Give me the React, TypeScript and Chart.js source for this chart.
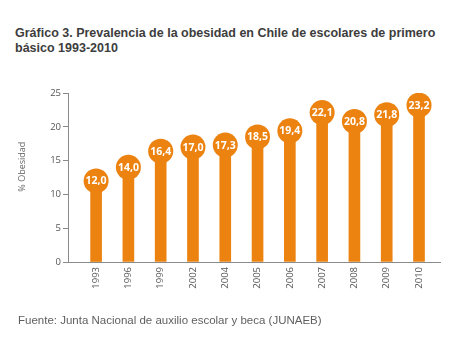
import React, { useEffect, useRef } from "react";
import { Chart, registerables } from "chart.js";

Chart.register(...registerables);

const years = ["1993", "1996", "1999", "2002", "2004", "2005", "2006", "2007", "2008", "2009", "2010"];
const obesity = [12.0, 14.0, 16.4, 17.0, 17.3, 18.5, 19.4, 22.1, 20.8, 21.8, 23.2];
const yTicks = [0, 5, 10, 15, 20, 25];
const titleLine1 = "Gráfico 3. Prevalencia de la obesidad en Chile de escolares de primero";
const titleLine2 = "básico 1993-2010";
const sourceText = "Fuente: Junta Nacional de auxilio escolar y beca (JUNAEB)";
const yTitle = "% Obesidad";

const ORANGE = "#EC8311";

const valueLabelPlugin = {
  id: "valueLabels",
  afterDatasetsDraw(chart: any) {
    const meta = chart.getDatasetMeta(1);
    const ctx = chart.ctx;
    ctx.save();
    ctx.fillStyle = "#ffffff";
    ctx.font = "bold 10.5px 'Open Sans', sans-serif";
    ctx.textAlign = "center";
    ctx.textBaseline = "middle";
    meta.data.forEach((pt: any, i: number) => {
      const txt = obesity[i].toFixed(1).replace(".", ",");
      ctx.fillText(txt, pt.x, pt.y + 0.5);
    });
    ctx.restore();
  },
};

const yTitlePlugin = {
  id: "yTitle",
  afterDraw(chart: any) {
    const ctx = chart.ctx;
    const y = chart.scales.y;
    ctx.save();
    ctx.translate(22, y.getPixelForValue(14.1));
    ctx.rotate(-Math.PI / 2);
    ctx.fillStyle = "#666666";
    ctx.font = "9px 'Open Sans', sans-serif";
    ctx.textAlign = "center";
    ctx.textBaseline = "middle";
    ctx.fillText(yTitle, 0, 0);
    ctx.restore();
  },
};

export default function App() {
  const ref = useRef<HTMLCanvasElement | null>(null);
  useEffect(() => {
    if (!ref.current) return;
    const pts = years.map((_, i) => ({ x: i, y: obesity[i] }));
    const chart = new Chart(ref.current, {
      type: "bar",
      data: {
        datasets: [
          {
            type: "bar",
            data: pts,
            backgroundColor: ORANGE,
            borderWidth: 0,
            barThickness: 11,
            order: 2,
          } as any,
          {
            type: "line",
            data: pts,
            showLine: false,
            pointRadius: 12.5,
            pointHoverRadius: 12.5,
            pointBackgroundColor: ORANGE,
            pointBorderColor: ORANGE,
            pointBorderWidth: 0,
            order: 1,
          } as any,
        ],
      },
      options: {
        animation: false,
        responsive: false,
        maintainAspectRatio: false,
        events: [],
        layout: { padding: { top: 93, right: 34, left: 0, bottom: 53 } },
        plugins: {
          legend: { display: false },
          tooltip: { enabled: false },
          title: { display: false },
        },
        scales: {
          x: {
            type: "linear",
            min: -0.87,
            max: 10.65,
            offset: false,
            afterBuildTicks: (scale: any) => {
              scale.ticks = years.map((_, i) => ({ value: i }));
            },
            afterFit: (scale: any) => {
              scale.height = 40;
            },
            ticks: {
              callback: (v: any) => years[v] ?? "",
              autoSkip: false,
              maxRotation: 90,
              minRotation: 90,
              padding: 5,
              color: "#555555",
              font: { family: "'Open Sans', sans-serif", size: 9.5 },
            },
            grid: { display: false, drawTicks: false },
            border: { display: true, color: "#8a8a8a", width: 1 },
          },
          y: {
            min: 0,
            max: 25,
            afterBuildTicks: (scale: any) => {
              scale.ticks = yTicks.map((v) => ({ value: v }));
            },
            afterFit: (scale: any) => {
              scale.width = 68;
            },
            ticks: {
              padding: 2,
              color: "#555555",
              font: { family: "'Open Sans', sans-serif", size: 9.5 },
            },
            grid: {
              drawOnChartArea: false,
              drawTicks: true,
              tickLength: 5,
              color: "#8a8a8a",
            },
            border: { display: true, color: "#8a8a8a", width: 1 },
            title: { display: false },
          },
        },
      } as any,
      plugins: [valueLabelPlugin, yTitlePlugin],
    });
    return () => chart.destroy();
  }, []);

  return (
    <div style={{ position: "fixed", left: 0, top: 0, width: 474, height: 355, background: "#fff", overflow: "hidden" }}>
      <div
        style={{
          position: "absolute",
          left: 15,
          top: 26,
          fontFamily: "'Liberation Sans', Arial, sans-serif",
          fontWeight: "bold",
          fontSize: 12.5,
          lineHeight: "15px",
          color: "#3d3d3d",
          whiteSpace: "nowrap",
        }}
      >
        <div>{titleLine1}</div>
        <div>{titleLine2}</div>
      </div>
      <canvas ref={ref} width={474} height={355} style={{ position: "absolute", left: 0, top: 0, width: 474, height: 355 }} />
      <div
        style={{
          position: "absolute",
          left: 18,
          top: 313,
          fontFamily: "'Liberation Sans', Arial, sans-serif",
          fontSize: 11.5,
          lineHeight: "14px",
          color: "#5f5f5f",
          whiteSpace: "nowrap",
        }}
      >
        {sourceText}
      </div>
    </div>
  );
}
